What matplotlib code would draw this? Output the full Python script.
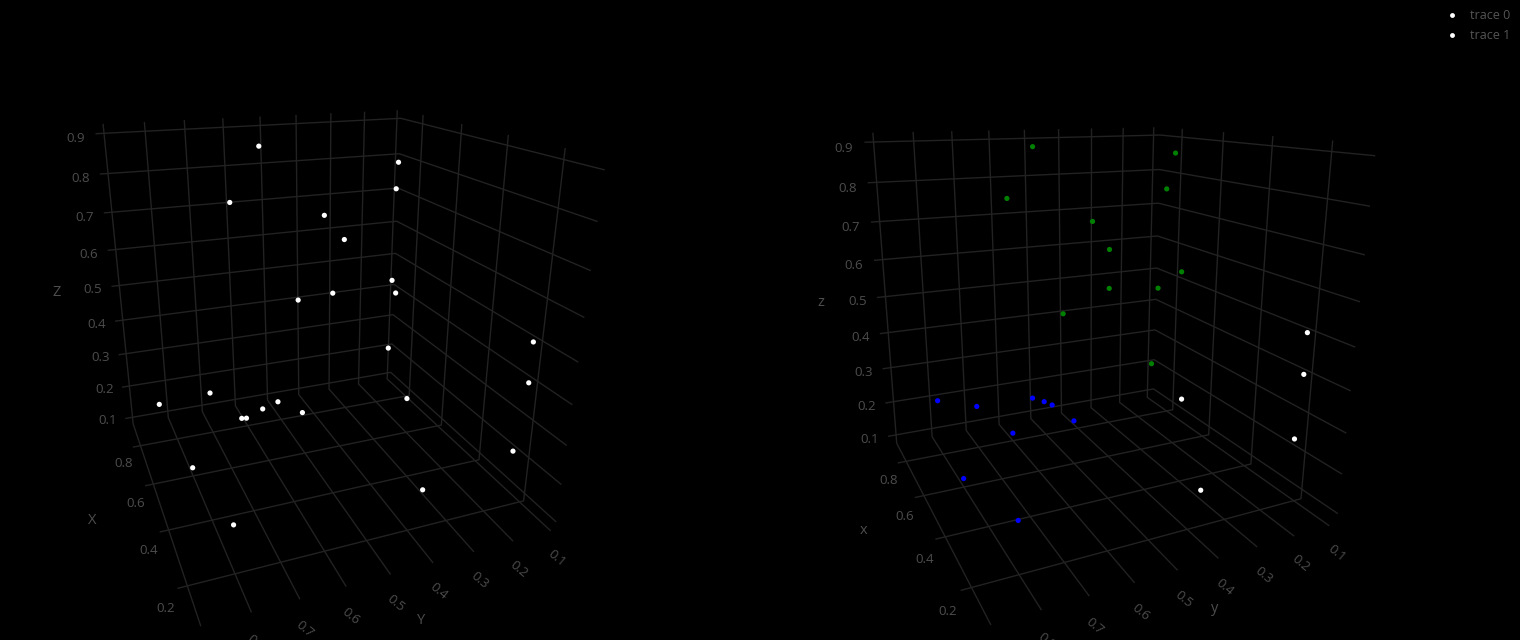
import numpy as np
import matplotlib
matplotlib.use('Agg')
import matplotlib.pyplot as plt
from matplotlib.lines import Line2D

# ---------------- data ----------------
trace0_x = [0.600, 0.801, 0.701, 0.500, 0.600, 0.400, 0.801, 0.300, 0.701, 0.200, 0.901, 0.208, 0.208,
            0.754, 0.600, 0.400, 0.701, 0.500, 0.786, 0.801, 0.300, 0.238, 0.500, 0.308, 0.200]
trace0_y = [0.604, 0.155, 0.209, 0.701, 0.447, 0.479, 0.161, 0.402, 0.383, 0.655, 0.115, 0.106, 0.106,
            0.120, 0.745, 0.897, 0.540, 0.642, 0.440, 0.616, 0.736, 0.106, 0.818, 0.304, 0.798]
trace0_z = [0.899, 0.801, 0.752, 0.800, 0.726, 0.721, 0.463, 0.621, 0.486, 0.673, 0.202, 0.497, 0.396,
            0.096, 0.305, 0.401, 0.192, 0.290, 0.096, 0.105, 0.386, 0.200, 0.166, 0.096, 0.202]

trace1_x = [0.600, 0.799, 0.700, 0.499, 0.600, 0.400, 0.748, 0.700, 0.300, 0.199, 0.900, 0.400, 0.600,
            0.499, 0.700, 0.300, 0.816, 0.799, 0.499, 0.199, 0.208, 0.208, 0.723, 0.220, 0.311]
trace1_y = [0.600, 0.098, 0.182, 0.700, 0.448, 0.501, 0.096, 0.351, 0.434, 0.698, 0.100, 0.899, 0.758,
            0.651, 0.543, 0.682, 0.405, 0.600, 0.826, 0.799, 0.095, 0.095, 0.096, 0.096, 0.293]
trace1_z = [0.900, 0.857, 0.772, 0.799, 0.717, 0.688, 0.526, 0.515, 0.616, 0.617, 0.197, 0.399, 0.284,
            0.325, 0.221, 0.389, 0.092, 0.098, 0.153, 0.200, 0.497, 0.396, 0.142, 0.228, 0.092]
trace1_colors = ['green'] * 11 + ['blue'] * 9 + ['white'] * 5

trace_names = ['trace 0', 'trace 1']
x_ticks = [0.2, 0.4, 0.6, 0.8]
y_ticks = [0.1, 0.2, 0.3, 0.4, 0.5, 0.6, 0.7, 0.8, 0.9]
z_ticks = [0.1, 0.2, 0.3, 0.4, 0.5, 0.6, 0.7, 0.8, 0.9]

# ---------------- layout / style ----------------
W, H = 1520, 640
GRID = '#222222'
TXT = '#4d4d4d'
plt.rcParams['grid.color'] = GRID
plt.rcParams['grid.linewidth'] = 1.0
plt.rcParams['font.family'] = ['Open Sans', 'DejaVu Sans']

fig = plt.figure(figsize=(W / 100, H / 100), dpi=100, facecolor='black')

scenes = [
    dict(rect=[0.00608, 0.02169, 0.39311, 0.93364], elev=21.5933, azim=158.8279, roll=0.0237, f=0.2372,
         xr=(0.0783, 0.9307), yr=(0.0882, 0.9202), zr=(0.0785, 0.9231),
         titles=[('Z', 57, 293), ('X', 92, 521), ('Y', 421, 621)]),
    dict(rect=[0.51554, 0.01995, 0.39330, 0.93409], elev=16.4920, azim=154.8553, roll=-0.0829, f=0.2378,
         xr=(0.0765, 0.9216), yr=(0.0780, 0.9221), zr=(0.0744, 0.9227),
         titles=[('z', 821, 303), ('x', 864, 531), ('y', 1215, 608)]),
]
data = [(trace0_x, trace0_y, trace0_z, 'white'),
        (trace1_x, trace1_y, trace1_z, trace1_colors)]


def set_lims(ax, xr, yr, zr):
    try:
        ax.set_xlim(*xr, view_margin=0)
        ax.set_ylim(*yr, view_margin=0)
        ax.set_zlim(*zr, view_margin=0)
    except TypeError:
        ax.set_xlim(*xr); ax.set_ylim(*yr); ax.set_zlim(*zr)


for sc, (xs, ys, zs, cols) in zip(scenes, data):
    ax = fig.add_axes(sc['rect'], projection='3d')
    ax.set_box_aspect((1, 1, 1))
    set_lims(ax, sc['xr'], sc['yr'], sc['zr'])
    ax.view_init(elev=sc['elev'], azim=sc['azim'], roll=sc['roll'])
    ax.set_proj_type('persp', focal_length=sc['f'])
    ax.set_facecolor('none')
    for axis in (ax.xaxis, ax.yaxis, ax.zaxis):
        axis.set_pane_color((0, 0, 0, 1))
        axis.line.set_color((0, 0, 0, 0))
        axis._axinfo['grid'].update(color=GRID, linewidth=1.0)
        axis._axinfo['tick']['inward_factor'] = 0
        axis._axinfo['tick']['outward_factor'] = 0
    ax.set_xticks(x_ticks)
    ax.set_yticks(y_ticks)
    ax.set_zticks(z_ticks)
    ax.tick_params(axis='x', colors=TXT, labelsize=9.5, pad=-1)
    ax.tick_params(axis='y', colors=TXT, labelsize=9.5, pad=-1, labelrotation=-40)
    ax.tick_params(axis='z', colors=TXT, labelsize=9.5)
    try:
        ax.zaxis.set_ticks_position('upper')
    except Exception:
        pass
    ax.scatter(xs, ys, zs, c=cols, s=14, depthshade=False, edgecolors='none')
    for t, px, py in sc['titles']:
        fig.text(px / W, 1 - py / H, t, color=TXT, fontsize=10.5, ha='center', va='center')

handles = [Line2D([], [], ls='none', marker='o', ms=3.5, mfc='white', mec='none') for _ in trace_names]
fig.legend(handles, trace_names, loc='upper right', bbox_to_anchor=(1.0, 1.0), frameon=False,
           fontsize=9, labelcolor='#555555', handlelength=1.2, handletextpad=0.9,
           labelspacing=0.55, borderaxespad=0.45, borderpad=0.3)

fig.savefig('out.png', dpi=100, facecolor='black')
